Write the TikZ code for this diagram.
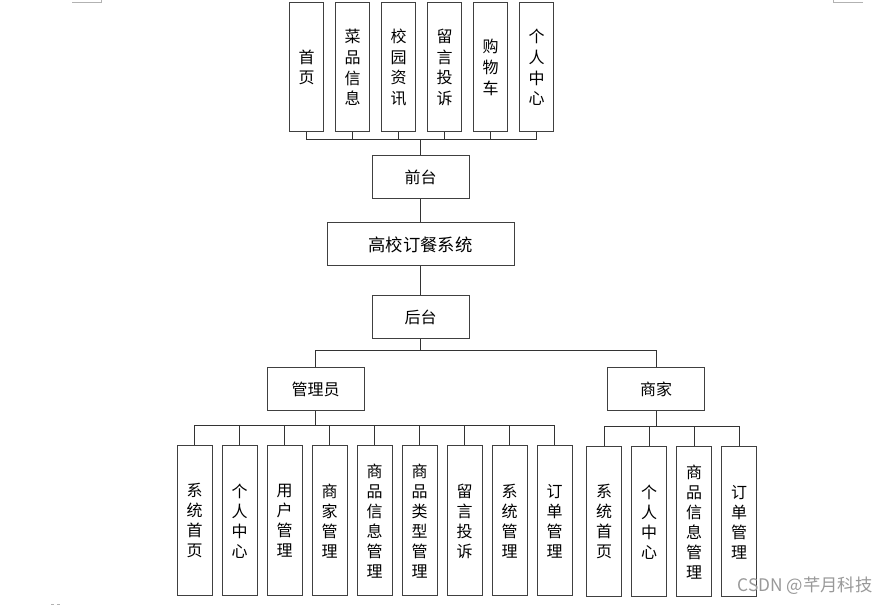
\documentclass[tikz,border=0pt]{standalone}
\usepackage{fontspec}
\setmainfont{Noto Sans CJK SC}

\tikzset{
  caja/.style={draw=black!75, line width=0.75pt, inner sep=0pt, align=center,
    font=\fontsize{12pt}{15pt}\selectfont},
  cajaalta/.style={caja, minimum width=25.5pt, minimum height=96.75pt,
    font=\fontsize{12pt}{15.6pt}\selectfont},
  cajabaja/.style={caja, minimum width=26.25pt, minimum height=112.5pt},
  cajamedia/.style={caja, minimum width=72.75pt, minimum height=32.25pt},
  cajasistema/.style={caja, minimum width=140.25pt, minimum height=32.25pt,
    font=\fontsize{13pt}{15pt}\selectfont},
  linea/.style={draw=black!80, line width=0.75pt},
  marca/.style={draw=black!30, line width=0.6pt}
}

\begin{document}
\begin{tikzpicture}[x=0.75pt, y=-0.75pt]
        \useasboundingbox (0,0) rectangle (890,605);

        % Marcas de la página
        \draw[marca] (72,2) -- (101,2) -- (101,0);
        \draw[marca] (863,2) -- (833,2) -- (833,0);
        \draw[marca] (51,604) -- (54,604);
        \draw[marca] (57,604) -- (60,604);

        % Nodos centrales
        \node[cajamedia] (qt) at (420.5,177.5) {前台};
        \node[cajasistema] (xt) at (420.5,244.5) {高校订餐系统};
        \node[cajamedia] (ht) at (420.5,317) {后台};
        \node[cajamedia] (gly) at (315.5,389) {管理员};
        \node[cajamedia] (sj) at (656,389) {商家};

        % Módulos del front
        \foreach \t [count=\i] in {首\\页, 菜\\品\\信\\息, 校\\园\\资\\讯,
                                   留\\言\\投\\诉, 购\\物\\车, 个\\人\\中\\心}
            \node[cajaalta] (f\i) at ({260.5+46*\i},67.5) {\t};

        % Módulos del administrador
        \foreach \t [count=\i] in {系\\统\\首\\页, 个\\人\\中\\心, 用\\户\\管\\理,
                                   商\\家\\管\\理, 商\\品\\信\\息\\管\\理,
                                   商\\品\\类\\型\\管\\理, 留\\言\\投\\诉,
                                   系\\统\\管\\理, 订\\单\\管\\理}
            \node[cajabaja] (a\i) at ({149.5+45*\i},521) {\t};

        % Módulos del comerciante
        \foreach \t [count=\i] in {系\\统\\首\\页, 个\\人\\中\\心,
                                   商\\品\\信\\息\\管\\理, 订\\单\\管\\理}
            \node[cajabaja] (m\i) at ({559+45*\i},522) {\t};

        % Conexiones
        \foreach \i in {1,...,6}
            \draw[linea] (f\i.south) -- ++(0,7) -| (qt.north);
        \draw[linea] (qt.south) -- (xt.north);
        \draw[linea] (xt.south) -- (ht.north);
        \draw[linea] (ht.south) -- ++(0,12) -| (gly.north);
        \draw[linea] (ht.south) -- ++(0,12) -| (sj.north);
        \foreach \i in {1,...,9}
            \draw[linea] (a\i.north) -- ++(0,-20) -| (gly.south);
        \foreach \i in {1,...,4}
            \draw[linea] (m\i.north) -- ++(0,-20) -| (sj.south);

        % Marca de agua
        \node[text=black!40, font=\fontsize{13pt}{15pt}\selectfont] (wm) at (805,586) {CSDN @芊月科技};
\end{tikzpicture}
\end{document}
